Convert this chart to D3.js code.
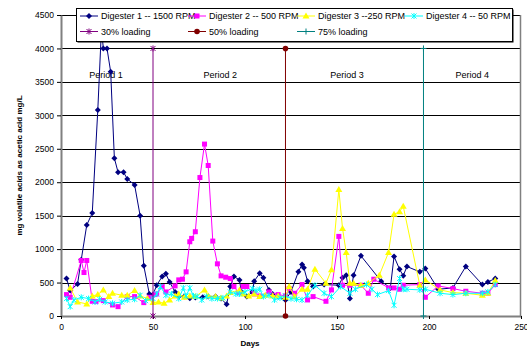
<!DOCTYPE html>
<html>
<head>
<meta charset="utf-8">
<script src="https://cdn.jsdelivr.net/npm/d3@7"></script>
<style>
  html, body { margin: 0; padding: 0; background: #fff; }
  svg text { font-family: "Liberation Sans", Arial, sans-serif; }
</style>
</head>
<body>
<svg id="chart" width="527" height="352"></svg>
<script>
// Volatile acid concentration per digester over the run (days, mg/L as acetic acid)
const d1Days = [3,5,9,11,14,17,20,22,23,25,27,29,31,34,36,40,43,45,48,50,52,55,57,59,62,64,67,70,73,77,80,84,87,90,92,94,97,98,101,104,105,108,110,113,115,118,122,125,129,131,132,134,137,143,151,153,155,157,159,163,174,179,181,184,186,188,195,198,205,213,220,229,232,236];
const d1Vals = [560,380,480,840,1360,1540,3080,4300,4000,4000,3650,2360,2150,2150,2050,1960,1500,750,330,320,460,590,630,510,360,290,290,265,275,280,290,290,260,175,440,590,540,360,290,360,520,640,570,390,330,290,240,360,660,770,720,520,440,470,460,570,610,260,610,900,520,420,890,700,600,740,660,710,400,420,740,470,510,560];

const d2Days = [3,5,11,12.5,14,17,19,23,28,31,36,40,45,48,51,52,55,57,62,64,66,68,70,71,73,75.5,78,80,82.5,85,87,89.5,92,94,96.5,99,101,105,108,113,118,122,124,127,131,134,137,144,147,151,153,157,163,167,170,178,181,184,186,195,198,205,213,220,229,232,236];
const d2Vals = [320,280,830,650,830,220,215,230,165,140,290,290,200,280,320,330,440,360,450,540,550,660,1110,1160,1260,2070,2570,2250,1120,780,600,580,560,440,350,440,440,330,300,360,320,300,410,340,470,240,290,220,390,1190,460,460,460,340,550,420,420,400,460,470,280,450,410,370,340,340,470];

const d3Days = [5,9,14,17,20,23,26,28,33,36,40,43,47,50,53,56,59,62,64,67,70,73,78,80,84,87,90,92,97,99,102,105,108,111,115,118,122,124,127,131,134,138,144,147,151,153,155,157,159,163,167,173,178,181,184,186,195,198,206,213,220,229,232,236];
const d3Vals = [420,210,180,300,320,390,290,340,310,310,380,300,260,200,210,190,240,300,330,280,300,290,390,300,290,270,300,350,390,330,300,330,290,310,300,300,280,440,290,400,400,700,490,690,1890,1310,950,490,490,460,490,610,950,1520,1560,1640,460,540,390,350,340,310,340,530];

const d4Days = [3,5,7,11,15,18.5,21,24,28,33,36,40,43,46,50,52,54,57,60,64,66.5,68,70,72,74,76.5,79,82,85,88,92,95,97,100,104,106,108,110,113,116,119,122,125,128,131,134,138,143,147,152,157,160,166,169,172,178,181,184,186,188,195,198,206,213,220,229,232,236];
const d4Vals = [260,140,240,280,260,210,250,210,190,210,240,250,310,230,260,330,440,310,330,260,420,300,420,300,290,240,290,260,260,270,360,330,330,360,410,380,400,290,310,240,270,300,260,250,240,310,460,340,290,440,340,400,470,400,320,380,160,560,400,400,390,400,340,320,340,340,360,470];

// Loading changes (vertical markers from 0 to 4000)
const loadingNames = ["30% loading", "50% loading", "75% loading"];
const loadingDays = [50, 122, 197];
const loadingSpan = [0, 4000];

// Period annotations
const periodNames = ["Period 1", "Period 2", "Period 3", "Period 4"];
const periodDays = [24.5, 86.5, 155.5, 223.5];
const periodLevel = 3600;

const seriesNames = ["Digester 1 -- 1500 RPM", "Digester 2 -- 500 RPM", "Digester 3 --250 RPM", "Digester 4 -- 50 RPM"];
const yTicks = d3.range(0, 4501, 500);
const xTicks = d3.range(0, 251, 50);

const svg = d3.select("#chart");
const x = d3.scaleLinear().domain([0, 250]).range([61, 521]);
const y = d3.scaleLinear().domain([0, 4500]).range([316, 15]);

// gridlines
svg.append("g")
  .selectAll("line").data(yTicks.slice(1)).join("line")
  .attr("x1", x(0)).attr("x2", x(250))
  .attr("y1", d => Math.round(y(d)) + 0.5).attr("y2", d => Math.round(y(d)) + 0.5)
  .attr("stroke", "#000").attr("stroke-width", 1);

// plot frame (right edge)
svg.append("line")
  .attr("x1", x(250) - 0.5).attr("x2", x(250) - 0.5)
  .attr("y1", y(4500)).attr("y2", y(0))
  .attr("stroke", "#808080").attr("stroke-width", 1.5);

// y axis
const yAxis = svg.append("g")
  .attr("transform", `translate(${x(0)},0)`)
  .call(d3.axisLeft(y).tickValues(yTicks).tickFormat(d3.format("d"))
    .tickSize(4).tickSizeOuter(0).tickPadding(3));
yAxis.select(".domain").attr("stroke", "#808080").attr("stroke-width", 2);
yAxis.selectAll(".tick line").attr("stroke", "#000");
yAxis.selectAll("text").attr("font-size", 8.5).attr("fill", "#000");

// x axis
const xAxis = svg.append("g")
  .attr("transform", `translate(0,${y(0)})`)
  .call(d3.axisBottom(x).tickValues(xTicks).tickFormat(d3.format("d"))
    .tickSize(3).tickSizeOuter(0).tickPadding(5));
xAxis.select(".domain").attr("stroke", "#808080").attr("stroke-width", 2);
xAxis.selectAll(".tick line").attr("stroke", "#000");
xAxis.selectAll("text").attr("font-size", 8.5).attr("fill", "#000");

// axis titles
svg.append("text").attr("x", x(100) + 5).attr("y", 346)
  .attr("text-anchor", "middle").attr("font-size", 8).attr("font-weight", "bold").text("Days");
svg.append("text")
  .attr("transform", `translate(22,${(y(0) + y(4500)) / 2}) rotate(-90)`)
  .attr("text-anchor", "middle").attr("font-size", 8).attr("font-weight", "bold")
  .text("mg volatile acids as acetic acid mg/L");

// period labels
svg.append("g").selectAll("text").data(periodNames).join("text")
  .attr("x", (d, i) => x(periodDays[i])).attr("y", y(periodLevel) + 3)
  .attr("text-anchor", "middle").attr("font-size", 9).text(d => d);

// marker shapes
function drawMarker(g, kind, color) {
  if (kind === "diamond") {
    g.append("path").attr("d", "M0,-3L3,0L0,3L-3,0Z").attr("fill", color);
  } else if (kind === "square") {
    g.append("rect").attr("x", -2.5).attr("y", -2.5).attr("width", 5).attr("height", 5).attr("fill", color);
  } else if (kind === "triangle") {
    g.append("path").attr("d", "M0,-3.5L3.5,2.5L-3.5,2.5Z").attr("fill", color);
  } else if (kind === "star") {
    g.append("path").attr("d", "M-2.5,-2.5L2.5,2.5M-2.5,2.5L2.5,-2.5M0,-3L0,3")
      .attr("stroke", color).attr("stroke-width", 1).attr("fill", "none");
  } else if (kind === "circle") {
    g.append("circle").attr("r", 2.8).attr("fill", color);
  } else if (kind === "plus") {
    g.append("path").attr("d", "M-3,0L3,0M0,-3L0,3")
      .attr("stroke", color).attr("stroke-width", 1).attr("fill", "none");
  }
}

const series = [
  { days: d1Days, vals: d1Vals, color: "#000080", marker: "diamond" },
  { days: d2Days, vals: d2Vals, color: "#FF00FF", marker: "square" },
  { days: d3Days, vals: d3Vals, color: "#FFFF00", marker: "triangle" },
  { days: d4Days, vals: d4Vals, color: "#00FFFF", marker: "star" }
];
const loadColors = ["#800080", "#800000", "#008080"];
const loadMarkers = ["star", "circle", "plus"];

const line = d3.line().x(d => x(d[0])).y(d => y(d[1]));

series.forEach(s => {
  const pts = s.days.map((d, i) => [d, s.vals[i]]);
  const g = svg.append("g");
  g.append("path").datum(pts).attr("d", line)
    .attr("fill", "none").attr("stroke", s.color).attr("stroke-width", 1);
  g.selectAll("g").data(pts).join("g")
    .attr("transform", d => `translate(${x(d[0])},${y(d[1])})`)
    .each(function () { drawMarker(d3.select(this), s.marker, s.color); });
});

// loading lines
loadingDays.forEach((day, i) => {
  const pts = loadingSpan.map(v => [day, v]);
  const g = svg.append("g");
  g.append("path").datum(pts).attr("d", line)
    .attr("fill", "none").attr("stroke", loadColors[i]).attr("stroke-width", 1);
  g.selectAll("g").data(pts).join("g")
    .attr("transform", d => `translate(${x(d[0])},${y(d[1])})`)
    .each(function () { drawMarker(d3.select(this), loadMarkers[i], loadColors[i]); });
});

// legend
const legend = svg.append("g");
const lx = 76, ly = 8, lw = 436, lh = 33;
legend.append("rect").attr("x", lx + 1.5).attr("y", ly + 1.5).attr("width", lw).attr("height", lh).attr("fill", "#000");
legend.append("rect").attr("x", lx + 0.5).attr("y", ly + 0.5).attr("width", lw).attr("height", lh)
  .attr("fill", "#fff").attr("stroke", "#000").attr("stroke-width", 1);

const colX = [80, 188, 297, 405];
const rowY = [16, 31.5];
const legendItems = seriesNames.map((n, i) => ({ name: n, color: series[i].color, marker: series[i].marker, col: i, row: 0 }))
  .concat(loadingNames.map((n, i) => ({ name: n, color: loadColors[i], marker: loadMarkers[i], col: i, row: 1 })));

legendItems.forEach(it => {
  const g = legend.append("g").attr("transform", `translate(${colX[it.col]},${rowY[it.row]})`);
  g.append("line").attr("x1", 0).attr("x2", 18).attr("y1", 0).attr("y2", 0)
    .attr("stroke", it.color).attr("stroke-width", 1);
  drawMarker(g.append("g").attr("transform", "translate(9,0)"), it.marker, it.color);
  g.append("text").attr("x", 21).attr("y", 3).attr("font-size", 9).text(it.name);
});
</script>
</body>
</html>
